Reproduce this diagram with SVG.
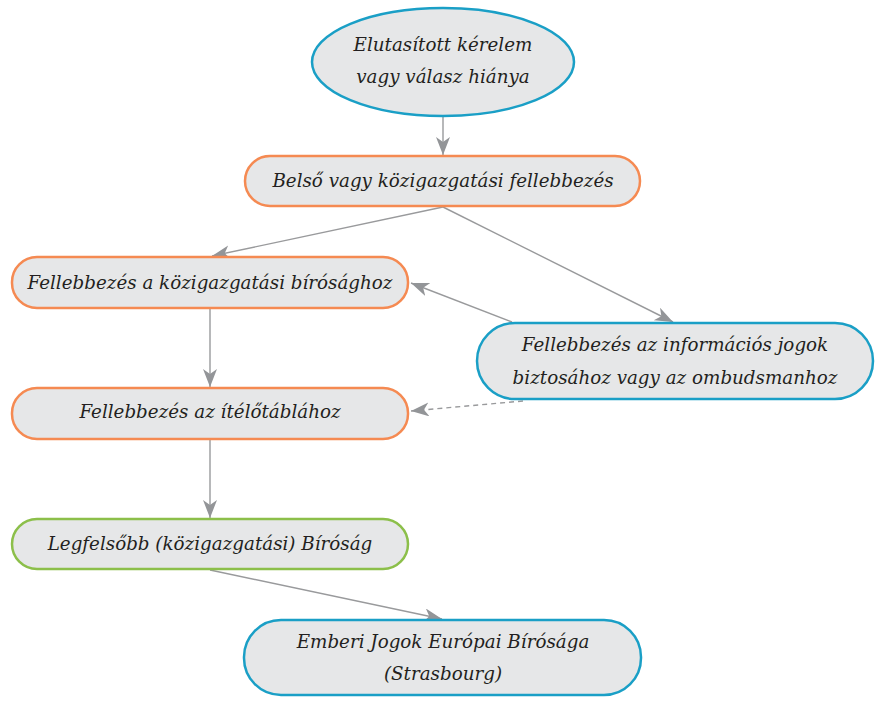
<svg xmlns="http://www.w3.org/2000/svg" width="879" height="728" viewBox="0 0 879 728">
<style>
.n{fill:#e6e7e8;stroke-width:2.5}
.o{stroke:#f58a52}
.b{stroke:#1a9fc6}
.g{stroke:#8cbf4a}
.t{font-family:"DejaVu Serif",serif;font-style:italic;font-size:18.3px;fill:#231f20;text-anchor:middle}
.c{stroke:#999a9c;stroke-width:1.4;fill:none;marker-end:url(#ah)}
.d{stroke-dasharray:5 4}
</style>
<defs>
<marker id="ah" markerUnits="userSpaceOnUse" markerWidth="20" markerHeight="16" refX="18" refY="7" orient="auto">
<path d="M0,0 L18,7 L0,14 L5,7 z" fill="#939598"/>
</marker>
</defs>
<g id="connectors">
<line class="c" x1="443" y1="117" x2="443" y2="155"/>
<line class="c" x1="443" y1="207" x2="212" y2="256"/>
<line class="c" x1="443" y1="207" x2="673" y2="322"/>
<line class="c" x1="512" y1="322" x2="411" y2="283"/>
<line class="c" x1="210" y1="309" x2="210" y2="387"/>
<line class="c d" x1="523" y1="401" x2="411" y2="411"/>
<line class="c" x1="210" y1="440" x2="210" y2="518"/>
<line class="c" x1="210" y1="570" x2="442" y2="619"/>
</g>
<g id="n1">
<ellipse class="n b" cx="443" cy="62" rx="131" ry="54"/>
<text class="t" x="443" y="51">Elutasított kérelem</text>
<text class="t" x="443" y="83">vagy válasz hiánya</text>
</g>
<g id="n2">
<rect class="n o" x="245" y="156" width="395" height="50" rx="25"/>
<text class="t" x="443" y="187">Belső vagy közigazgatási fellebbezés</text>
</g>
<g id="n3">
<rect class="n o" x="12" y="257" width="396" height="51" rx="25"/>
<text class="t" x="210" y="289">Fellebbezés a közigazgatási bírósághoz</text>
</g>
<g id="n4">
<rect class="n b" x="477" y="323" width="396" height="76" rx="38"/>
<text class="t" x="675" y="351">Fellebbezés az információs jogok</text>
<text class="t" x="675" y="384">biztosához vagy az ombudsmanhoz</text>
</g>
<g id="n5">
<rect class="n o" x="12" y="388" width="396" height="51" rx="25"/>
<text class="t" x="210" y="418">Fellebbezés az ítélőtáblához</text>
</g>
<g id="n6">
<rect class="n g" x="12" y="519" width="396" height="50" rx="25"/>
<text class="t" x="210" y="550">Legfelsőbb (közigazgatási) Bíróság</text>
</g>
<g id="n7">
<rect class="n b" x="244" y="620" width="397" height="75" rx="37"/>
<text class="t" x="443" y="648">Emberi Jogok Európai Bírósága</text>
<text class="t" x="443" y="680">(Strasbourg)</text>
</g>
</svg>
